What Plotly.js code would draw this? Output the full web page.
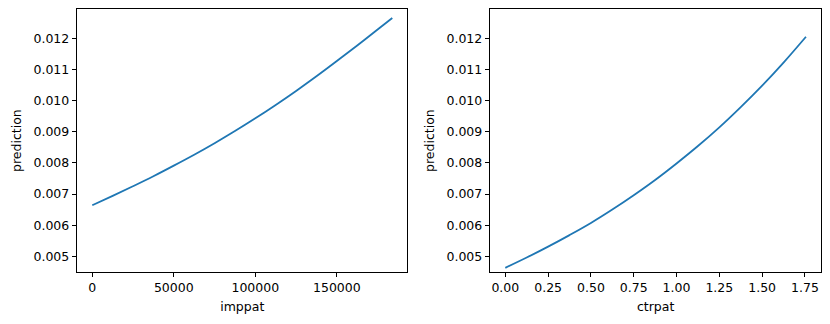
<!DOCTYPE html>
<html>
<head>
<meta charset="utf-8">
<script src="https://cdn.plot.ly/plotly-3.0.1.min.js"></script>
<style>html,body{margin:0;padding:0;background:#fff;}#chart{width:830px;height:324px;}</style>
</head>
<body>
<div id="chart"></div>
<script>
// Left panel: prediction vs imppat
const imppatX = [0, 12500, 25000, 37500, 50000, 62500, 75000, 87500, 100000, 112500, 125000, 137500, 150000, 162500, 175000, 184000];
const imppatY = [0.00664, 0.00694, 0.00725, 0.00757, 0.00791, 0.00826, 0.00863, 0.00902, 0.00943, 0.00986, 0.01031, 0.01078, 0.01127, 0.01177, 0.01228, 0.01265];
// Right panel: prediction vs ctrpat
const ctrpatX = [0, 0.125, 0.25, 0.375, 0.5, 0.625, 0.75, 0.875, 1.0, 1.125, 1.25, 1.375, 1.5, 1.625, 1.756];
const ctrpatY = [0.00463, 0.00496, 0.00531, 0.00568, 0.00607, 0.00650, 0.00696, 0.00745, 0.00798, 0.00854, 0.00914, 0.00979, 0.01048, 0.01122, 0.01205];

const xLabels = ["imppat", "ctrpat"];
const yLabel = "prediction";

const font = {family: "DejaVu Sans, sans-serif", size: 12.5, color: "#000"};
const lineColor = "#1f77b4";

const axisCommon = {
  showline: true, linecolor: "#000", linewidth: 1, mirror: true,
  ticks: "outside", ticklen: 4.5, tickwidth: 1, tickcolor: "#000",
  showgrid: false, zeroline: false, automargin: false,
  tickfont: font
};

const yRange = [0.004496, 0.012931];

const traces = [
  {x: imppatX, y: imppatY, type: "scatter", mode: "lines", line: {color: lineColor, width: 1.8, shape: "spline", smoothing: 1}, xaxis: "x", yaxis: "y", showlegend: false, hoverinfo: "skip"},
  {x: ctrpatX, y: ctrpatY, type: "scatter", mode: "lines", line: {color: lineColor, width: 1.8, shape: "spline", smoothing: 1}, xaxis: "x2", yaxis: "y2", showlegend: false, hoverinfo: "skip"}
];

const layout = {
  width: 830, height: 324,
  margin: {l: 0, r: 0, t: 0, b: 0},
  paper_bgcolor: "#fff", plot_bgcolor: "#fff",
  font: font,
  showlegend: false,
  xaxis: Object.assign({}, axisCommon, {
    domain: [0.0931, 0.4907], anchor: "y",
    range: [-9200, 193200], dtick: 50000, tick0: 0, tickformat: "d",
    title: {text: xLabels[0], font: font, standoff: 7}
  }),
  yaxis: Object.assign({}, axisCommon, {
    domain: [0.1605, 0.9713], anchor: "x",
    range: yRange, dtick: 0.001, tick0: 0, tickformat: ".3f",
    title: {text: yLabel, font: font, standoff: 9}
  }),
  xaxis2: Object.assign({}, axisCommon, {
    domain: [0.5907, 0.9892], anchor: "y2",
    range: [-0.0878, 1.844], dtick: 0.25, tick0: 0, tickformat: ".2f",
    title: {text: xLabels[1], font: font, standoff: 7}
  }),
  yaxis2: Object.assign({}, axisCommon, {
    domain: [0.1605, 0.9713], anchor: "x2",
    range: yRange, dtick: 0.001, tick0: 0, tickformat: ".3f",
    title: {text: yLabel, font: font, standoff: 9}
  })
};

Plotly.newPlot("chart", traces, layout, {staticPlot: true, displayModeBar: false});
</script>
</body>
</html>
